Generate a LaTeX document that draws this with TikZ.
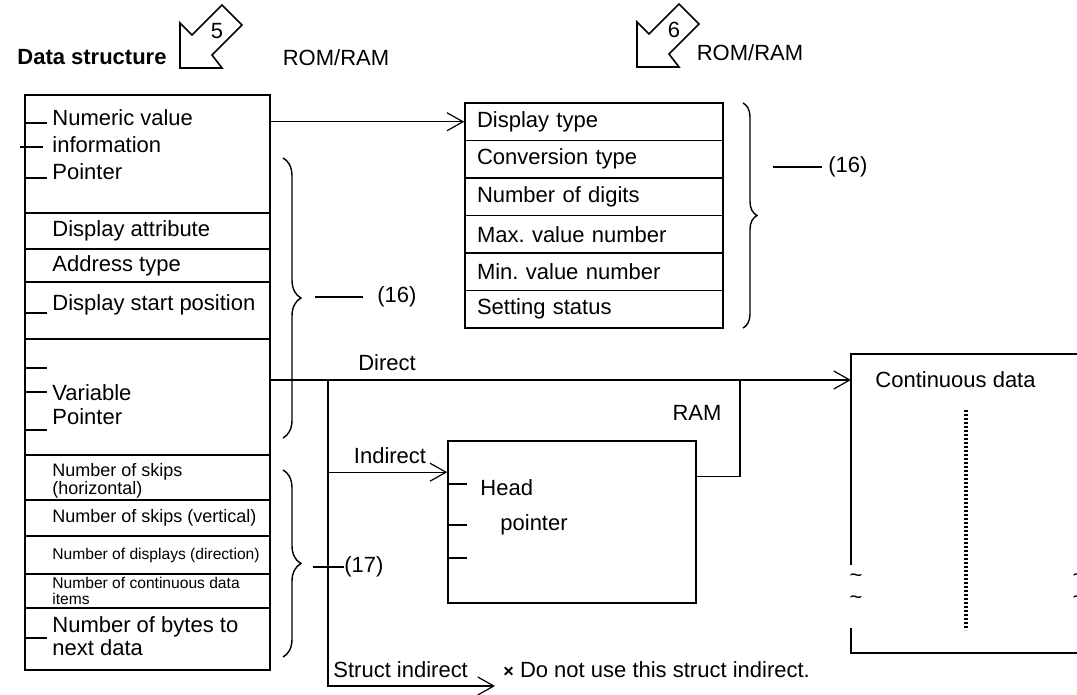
\documentclass[tikz,border=0pt]{standalone}
\usepackage{fontspec}
\setmainfont{Liberation Sans}
\usetikzlibrary{positioning, arrows.meta, decorations.pathreplacing}

\tikzset{
  box/.style={draw, line width=0.8pt, inner sep=0pt},
  cell/.style={box, minimum width=122.5pt},
  rcell/.style={box, minimum width=129pt, minimum height=18.75pt, text width=117pt, inner xsep=6pt, align=left},
  txt/.style={anchor=west, inner sep=0pt, align=left},
  conn/.style={line width=0.6pt},
  tick/.style={line width=0.6pt},
  grp/.style={line width=0.7pt, decorate, decoration={brace, amplitude=#1}},
}

% hollow arrow mark with its number
\newcommand{\memmark}[3]{%
  \draw[line width=0.8pt, shift={(#1,#2)}] (0,0) -- (0,-45) -- (12,-33) -- (42,-63)
    -- (62,-43) -- (32,-13) -- (42,0) -- cycle;
  \node[inner sep=0pt] (mark#3) at ({#1+37},{#2-37}) {#3};
}

\begin{document}
\frenchspacing
\begin{tikzpicture}
      [x=0.5pt, y=-0.5pt, font=\fontsize{11}{13.5}\selectfont,
       >={Straight Barb[length=8pt,width=9pt]}]
      \useasboundingbox (0,0) rectangle (1077,695);
      \clip (0,0) rectangle (1077,695);

      % heading
      \node[inner sep=0pt, font=\fontsize{11}{13}\selectfont\bfseries] (title) at (92,57) {Data structure};
      \memmark{180}{68}{5}
      \node[inner sep=0pt] (rom1) at (336,58) {ROM/RAM};
      \memmark{637}{67}{6}
      \node[inner sep=0pt] (rom2) at (750,53) {ROM/RAM};

      % data structure rows
      \foreach \ya/\yb [count=\i] in {95/213, 213/249, 249/282, 282/339, 339/455,
                                     455/500, 500/536, 536/574, 574/608, 608/670}
        \node[cell, minimum height={(\yb-\ya)*0.5pt}] (lrow\i) at (147.5,{(\ya+\yb)/2}) {};

      \node[txt] (numval) at (52,145) {Numeric value\\information\\Pointer};
      \node[txt] (dattr) at (52,231) {Display attribute};
      \node[txt] (atype) at (52,266) {Address type};
      \node[txt] (dstart) at (52,305) {Display start position};
      \node[txt, font=\fontsize{11}{12}\selectfont] (varptr) at (52,405) {Variable\\Pointer};
      \node[txt, font=\fontsize{9}{9}\selectfont] (skiph) at (52,481) {Number of skips\\(horizontal)};
      \node[txt, font=\fontsize{9}{9}\selectfont] (skipv) at (52,518) {Number of skips (vertical)};
      \node[txt, font=\fontsize{7.8}{8}\selectfont] (ndisp) at (52,555) {Number of displays (direction)};
      \node[txt, font=\fontsize{7.8}{8}\selectfont] (ncont) at (52,591) {Number of continuous data\\items};
      \node[txt, font=\fontsize{11}{11.5}\selectfont] (nbytes) at (52,636) {Number of bytes to\\next data};

      \foreach \y in {123,178,313,368,392,430,638}
        \draw[tick] (25,\y) -- (47,\y);
      \draw[tick] (20,147) -- (43,147);

      % numeric value information
      \foreach \t [count=\i] in {Display type, Conversion type, Number of digits,
                                 Max. value number, Min. value number, Setting status}
        \node[rcell] (r\i) at (594,{103+37.5*\i-18.75}) {\t};

      % head pointer block and continuous data
      \node[box, minimum width=124pt, minimum height=81pt] (headbox) at (572,522) {};
      \node[txt] (head) at (480,488) {Head};
      \node[txt] (hptr) at (500,525) {pointer};
      \foreach \y in {484,525,558}
        \draw[tick] (448,\y) -- (467,\y);

      \draw[line width=0.8pt] (1080,354) -- (851,354) -- (851,565);
      \draw[line width=0.8pt] (851,628) -- (851,653) -- (1080,653);
      \node[txt] (contdata) at (875,380) {Continuous data};
      \draw[line width=1.6pt, dash pattern=on 1.2pt off 0.8pt] (966,410) -- (966,630);
      \foreach \y [count=\i] in {578,600} {
        \node[inner sep=0pt] (wl\i) at (856,\y) {\textasciitilde};
        \node[inner sep=0pt] (wr\i) at (1079,\y) {\textasciitilde};
      }

      % braces
      \draw[grp=9pt] (283,158) -- (283,438);
      \draw[grp=9pt] (283,470) -- (283,657);
      \draw[grp=7pt] (743,103) -- (743,328);
      \node[txt] (n16a) at (377,297) {(16)};
      \node[txt] (n16b) at (828,167) {(16)};
      \node[txt] (n17) at (344,567) {(17)};
      \draw[conn] ([xshift=-7pt]n16a.west) -- ++(-48,0);
      \draw[conn] ([xshift=-3pt]n16b.west) -- ++(-49,0);
      \draw[conn] (n17.west) -- ++(-31,0);

      % edges
      \coordinate (contin) at (851,380);
      \coordinate (split) at (328,380);
      \coordinate (indin) at ([yshift=-16pt]headbox.north west);
      \coordinate (ramjoin) at (740,380);
      \coordinate (sind) at (495,686);
      \draw[conn, ->] (lrow1.east |- r1.west) -- (r1.west);
      \draw[conn, ->] (lrow5.east |- contin) -- (contin);
      \draw[conn, ->] (split |- indin) -- (indin);
      \draw[conn, ->] (split) |- (sind);
      \draw[conn] ([yshift=-18pt]headbox.north east) -| (ramjoin);

      \node[inner sep=0pt] (ldirect) at (387,363) {Direct};
      \node[inner sep=0pt] (lindirect) at (390,456) {Indirect};
      \node[inner sep=0pt] (lram) at (697,413) {RAM};
      \node[txt] (lstruct) at (333,670) {Struct indirect};
      \node[txt] (lnote) at (503,670) {{\fontsize{9}{9}\selectfont\bfseries ×} Do not use this struct indirect.};
\end{tikzpicture}
\end{document}
